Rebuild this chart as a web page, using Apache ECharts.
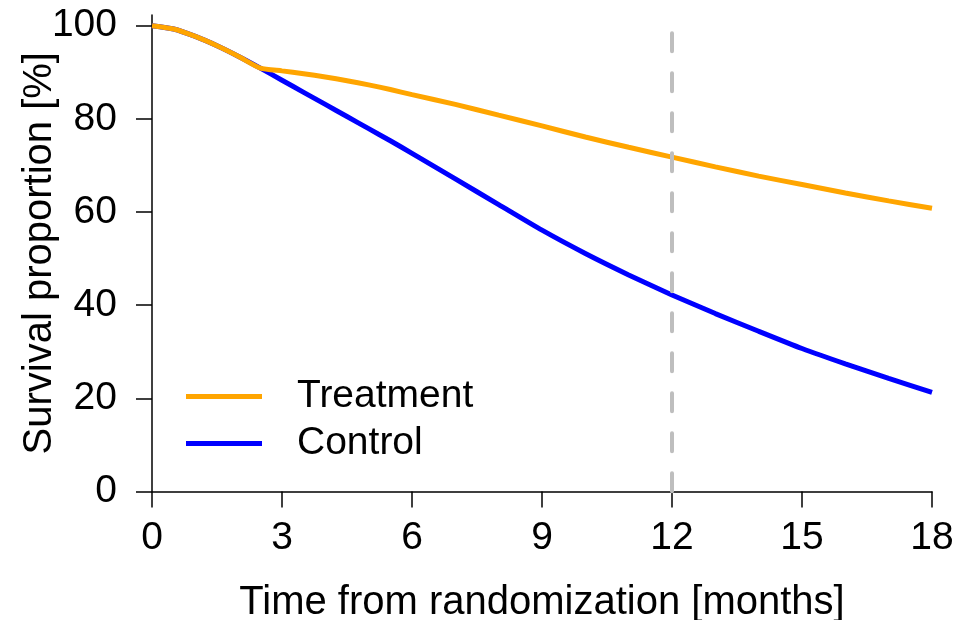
<!DOCTYPE html>
<html>
<head>
<meta charset="utf-8">
<script src="https://cdn.jsdelivr.net/npm/echarts@6/dist/echarts.min.js"></script>
<style>
  html, body { margin: 0; padding: 0; background: #fff; }
  #chart { width: 965px; height: 620px; }
</style>
</head>
<body>
<div id="chart"></div>
<script>
// months from randomization
const months = [0, 0.5, 1, 1.5, 2, 2.5, 3, 3.5, 4, 4.5, 5, 5.5, 6, 7, 8, 9, 10, 11, 12, 13, 14, 15, 16, 17, 18];
const treatment = [100, 99.3, 97.7, 95.7, 93.4, 90.9, 90.3, 89.7, 89.0, 88.2, 87.3, 86.3, 85.2, 83.1, 80.8, 78.5, 76.1, 73.9, 71.8, 69.7, 67.7, 65.9, 64.1, 62.4, 60.8];
const control = [100, 99.3, 97.7, 95.7, 93.4, 90.9, 88.3, 85.7, 83.1, 80.5, 77.9, 75.3, 72.6, 67.1, 61.6, 56.1, 51.1, 46.5, 42.2, 38.2, 34.4, 30.7, 27.4, 24.3, 21.3];
const xTicks = [0, 3, 6, 9, 12, 15, 18];
const yTicks = [0, 20, 40, 60, 80, 100];
// dashed reference line at 12 months
const cutoff = 12;
const cutoffTop = 98.4;

const font = "'Liberation Sans', Arial, sans-serif";
const pairs = arr => months.map((m, i) => [m, arr[i]]);

const chart = echarts.init(document.getElementById('chart'));
chart.setOption({
  animation: false,
  grid: { left: 152, right: 33, top: 15, bottom: 128.5, containLabel: false, outerBoundsMode: 'none' },
  legend: {
    orient: 'vertical',
    left: 186,
    top: 377,
    padding: 0,
    itemWidth: 76,
    itemHeight: 5,
    itemGap: 8,
    icon: 'rect',
    data: ['Treatment', 'Control'],
    textStyle: { fontFamily: font, fontSize: 39, color: '#000', lineHeight: 39, padding: [0, 0, 0, 30] }
  },
  xAxis: {
    type: 'value',
    min: 0,
    max: 18,
    interval: 3,
    name: 'Time from randomization [months]',
    nameLocation: 'middle',
    nameGap: 91,
    nameTextStyle: { fontFamily: font, fontSize: 40, color: '#000' },
    axisLine: { lineStyle: { color: '#000', width: 1.5 } },
    axisTick: { length: 16, lineStyle: { color: '#000', width: 1.5 }, customValues: xTicks },
    axisLabel: { fontFamily: font, fontSize: 39, color: '#000', margin: 27, customValues: xTicks },
    splitLine: { show: false }
  },
  yAxis: {
    type: 'value',
    min: 0,
    max: 102.3,
    name: 'Survival proportion [%]',
    nameLocation: 'middle',
    nameGap: 92,
    nameMoveOverlap: false,
    nameTextStyle: { fontFamily: font, fontSize: 40, color: '#000' },
    axisLine: { show: true, lineStyle: { color: '#000', width: 1.5 } },
    axisTick: { show: true, length: 16, lineStyle: { color: '#000', width: 1.5 }, customValues: yTicks },
    axisLabel: { fontFamily: font, fontSize: 39, color: '#000', margin: 35, customValues: yTicks },
    splitLine: { show: false }
  },
  series: [
    {
      name: 'Control',
      type: 'line',
      data: pairs(control),
      smooth: 0.2,
      showSymbol: false,
      symbol: 'none',
      color: '#0000FF',
      lineStyle: { color: '#0000FF', width: 5 }
    },
    {
      name: 'Treatment',
      type: 'line',
      data: pairs(treatment),
      smooth: 0.2,
      showSymbol: false,
      symbol: 'none',
      color: '#FFA500',
      lineStyle: { color: '#FFA500', width: 5 },
      markLine: {
        silent: true,
        symbol: 'none',
        label: { show: false },
        lineStyle: { color: '#BEBEBE', width: 4, type: [18, 22], cap: 'round' },
        data: [[{ coord: [cutoff, cutoffTop] }, { coord: [cutoff, 0] }]]
      }
    }
  ]
});
</script>
</body>
</html>
